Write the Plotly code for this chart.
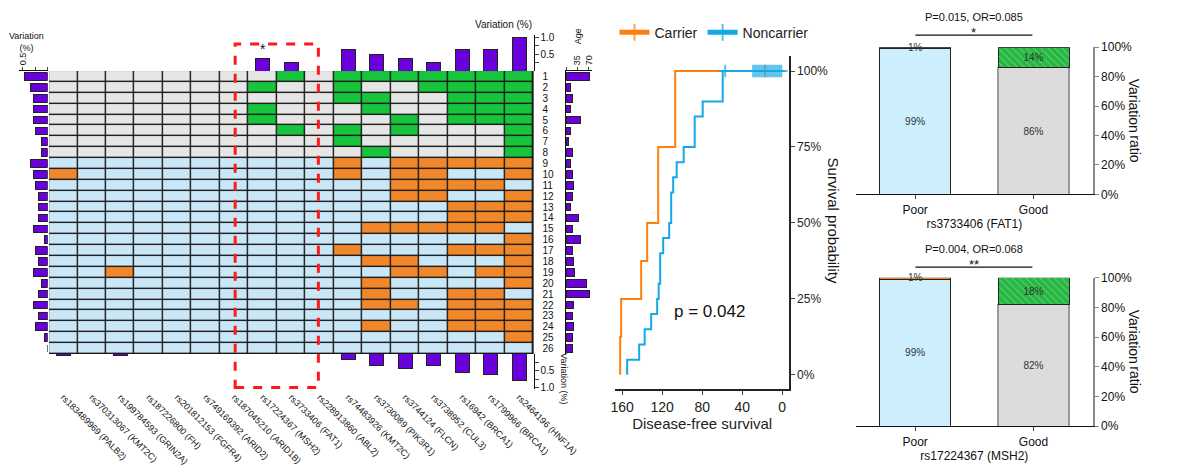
import plotly.graph_objects as go

W, H = 1200, 476
def dx(a, b): return [a / W, b / W]
def dy(top, bottom): return [1 - bottom / H, 1 - top / H]
def px(x): return x / W
def py(y): return 1 - y / H

FONT = "Liberation Sans, Arial, sans-serif"
PURPLE = "#6a00dc"
GREY, GREEN, BLUE, ORANGE = "#e6e6e6", "#17c43c", "#c9e7f6", "#f0872a"

# ---------------- data ----------------
snp_labels = ["rs183489969 (PALB2)", "rs370313067 (KMT2C)", "rs199784593 (GRIN2A)",
              "rs187226800 (FH)", "rs201812153 (FGFR4)", "rs749169392 (ARID2)",
              "rs187045210 (ARID1B)", "rs17224367 (MSH2)", "rs3733406 (FAT1)",
              "rs228913860 (ABL2)", "rs74483926 (KMT2C)", "rs3730089 (PIK3R1)",
              "rs3744124 (FLCN)", "rs3738952 (CUL3)", "rs16942 (BRCA1)",
              "rs1799966 (BRCA1)", "rs2464196 (HNF1A)"]
sample_labels = [str(i) for i in range(1, 27)]
# variant columns per sample, good-prognosis samples (1-8)
good_variants = [
    [8, 10, 11, 12, 13, 14, 15, 16],
    [7, 10, 13, 14, 15, 16],
    [10, 11, 14, 15, 16],
    [7, 11, 14, 15, 16],
    [7, 12, 14, 15, 16],
    [8, 10, 12, 16],
    [10, 16],
    [11, 16],
]
# poor-prognosis samples (9-26)
poor_variants = [
    [10, 12, 13, 14, 15, 16],
    [0, 10, 12, 13, 16],
    [12, 13, 14, 15],
    [12, 13, 16],
    [14, 15, 16],
    [14, 15, 16],
    [11, 12, 13, 14, 15],
    [16],
    [10, 14, 15, 16],
    [11, 12, 16],
    [2, 12, 13, 15, 16],
    [11, 16],
    [11, 14, 15],
    [11, 12, 14, 15, 16],
    [14, 15, 16],
    [11, 14, 15, 16],
    [16],
    [],
]
top_variation = [0, 0, 0, 0, 0, 0, 0, 0.375, 0.25, 0, 0.625, 0.5, 0.375, 0.25, 0.625, 0.625, 1.0]
bottom_variation = [0.056, 0, 0.056, 0, 0, 0, 0, 0, 0, 0, 0.167, 0.333, 0.444, 0.333, 0.556, 0.611, 0.778]
row_variation = [0.47, 0.35, 0.29, 0.29, 0.29, 0.235, 0.118, 0.118, 0.35, 0.29, 0.235, 0.176,
                 0.176, 0.176, 0.29, 0.059, 0.235, 0.176, 0.29, 0.118, 0.176, 0.29, 0.176,
                 0.235, 0.059, 0]
ages = [72, 13, 19, 13, 46, 15, 7, 20, 15, 19, 23, 21, 15, 39, 20, 44, 20, 24, 27, 62, 72,
        24, 21, 24, 20, 21]

# Kaplan-Meier
carrier_t = [0, 17, 107, 124, 135, 141, 161, 162]
carrier_s = [1, 1, 0.75, 0.5, 0.375, 0.25, 0.125, 0]
carrier_cens = [False, True, False, False, False, False, False, False]
non_t = [0, 1, 3, 5, 7, 9, 11, 13, 15, 17, 19, 21, 23, 25, 27, 29, 57, 59.5, 79.5, 87.5, 98.5,
         105.5, 109, 111, 113, 119, 122, 123.5, 125, 131, 137.5, 143, 155]
non_s = [1] * 17 + [0.9, 0.85, 0.75, 0.70, 0.65, 0.60, 0.50, 0.45, 0.40, 0.30, 0.25, 0.20,
                    0.15, 0.10, 0.05, 0]
non_cens = [False] + [True] * 16 + [False] * 16

# prognosis bars
groups = ["Good", "Poor"]
fat1_wild = [0.86, 0.99]
fat1_var = [0.14, 0.01]
msh2_wild = [0.82, 0.99]
msh2_var = [0.18, 0.01]

# ---------------- build ----------------
ncol = len(snp_labels)
z = []
for vars_ in good_variants:
    z.append([1 if c in vars_ else 0 for c in range(ncol)])
for vars_ in poor_variants:
    z.append([3 if c in vars_ else 2 for c in range(ncol)])
rows = list(range(len(sample_labels)))
cols = list(range(ncol))

fig = go.Figure()
cs = [[0, GREY], [0.1667, GREY], [0.1667, GREEN], [0.5, GREEN],
      [0.5, BLUE], [0.8333, BLUE], [0.8333, ORANGE], [1, ORANGE]]
fig.add_trace(go.Heatmap(z=z, x=cols, y=rows, colorscale=cs, zmin=0, zmax=3, showscale=False,
                         xgap=1.4, ygap=1.4, hoverinfo="skip", xaxis="x", yaxis="y"))

bar_line = dict(color="#222", width=1)
fig.add_trace(go.Bar(x=cols, y=top_variation, width=0.5, marker=dict(color=PURPLE, line=bar_line),
                     xaxis="x2", yaxis="y2", showlegend=False))
fig.add_trace(go.Bar(x=cols, y=bottom_variation, width=0.5, marker=dict(color=PURPLE, line=bar_line),
                     xaxis="x3", yaxis="y3", showlegend=False))
fig.add_trace(go.Bar(y=rows, x=row_variation, orientation="h", width=0.7,
                     marker=dict(color=PURPLE, line=bar_line), xaxis="x4", yaxis="y4", showlegend=False))
fig.add_trace(go.Bar(y=rows, x=ages, orientation="h", width=0.7,
                     marker=dict(color=PURPLE, line=bar_line), xaxis="x5", yaxis="y5", showlegend=False))

for name, t, s, cen, col in [("Carrier", carrier_t, carrier_s, carrier_cens, "#ff7f0e"),
                              ("Noncarrier", non_t, non_s, non_cens, "#14a9e6")]:
    fig.add_trace(go.Scatter(x=t, y=s, mode="lines+markers", name=name, line=dict(color=col, width=2, shape="hv"),
                             marker=dict(symbol="cross-thin", size=[9 if c else 0 for c in cen],
                                         color=col, line=dict(width=2, color=col)),
                             xaxis="x6", yaxis="y6"))

def stacked(ax, ay, wild, var):
    fig.add_trace(go.Bar(x=groups, y=wild, width=0.6, xaxis=ax, yaxis=ay, showlegend=False,
                         marker=dict(color=["#dcdcdc", "#cdeefc"], line=dict(color=["#9a9a9a", "#222"], width=1.2)),
                         text=[f"{round(v*100)}%" for v in wild], textposition="inside",
                         insidetextanchor="middle", textfont=dict(size=10, color="#333")))
    fig.add_trace(go.Bar(x=groups, y=var, width=0.6, xaxis=ax, yaxis=ay, showlegend=False,
                         marker=dict(color=["#27b843", "#f0872a"], line=dict(color="#222", width=1),
                                     pattern=dict(shape=["\\", ""], fgcolor="#0d6a20", size=5, solidity=0.15)),
                         text=[f"{round(var[0]*100)}%", ""], textposition="inside",
                         insidetextanchor="middle", textfont=dict(size=10, color="#333")))
    fig.add_annotation(x="Poor", y=wild[1] + var[1], xref=ax, yref=ay, text=f"{round(var[1]*100)}%",
                       showarrow=False, xanchor="center", yanchor="middle", font=dict(size=10, color="#333"))

stacked("x7", "y7", fat1_wild, fat1_var)
stacked("x8", "y8", msh2_wild, msh2_var)

# ---------------- layout ----------------
hm_x = dx(46, 551.5)
hm_y = dy(66, 357.5)
small = dict(family=FONT, size=10, color="#111")
lay = dict(
    width=W, height=H, margin=dict(l=0, r=0, t=0, b=0), paper_bgcolor="white", plot_bgcolor="white",
    barmode="stack", font=dict(family=FONT, color="#111"),
    xaxis=dict(domain=hm_x, range=[-0.5, 16.5], showticklabels=False, showgrid=False, zeroline=False, anchor="y"),
    yaxis=dict(domain=hm_y, range=[25.5, -0.5], side="right", tickvals=rows, ticktext=sample_labels,
               ticks="", showgrid=False, zeroline=False, tickfont=small, ticklabelstandoff=8, anchor="x"),
    xaxis2=dict(domain=hm_x, range=[-0.5, 16.5], visible=False, anchor="y2"),
    yaxis2=dict(domain=dy(29, 66), range=[0, 1.057], side="right", anchor="x2", showline=True, linecolor="#111",
                ticks="outside", ticklen=4, tickvals=[0.25, 0.5, 0.75, 1.0], ticktext=["", "0.5", "", "1.0"],
                showgrid=False, zeroline=False, tickfont=small),
    xaxis3=dict(domain=hm_x, range=[-0.5, 16.5], anchor="y3", tickvals=cols, ticktext=snp_labels, tickangle=45,
                ticks="", showgrid=False, zeroline=False, tickfont=dict(family=FONT, size=9, color="#111")),
    yaxis3=dict(domain=dy(357.5, 394), range=[1.05, 0], side="right", anchor="x3", showline=True, linecolor="#111",
                ticks="outside", ticklen=4, tickvals=[0.25, 0.5, 0.75, 1.0], ticktext=["", "0.5", "", "1.0"],
                showgrid=False, zeroline=False, tickfont=small),
    xaxis4=dict(domain=dx(15, 44.5), range=[0.57, 0], side="top", anchor="y4", showline=True, linecolor="#111",
                ticks="outside", ticklen=3, tickvals=[0, 0.25, 0.5], ticktext=["", "", "0.5"], tickangle=-90,
                showgrid=False, zeroline=False, tickfont=dict(family=FONT, size=9)),
    yaxis4=dict(domain=hm_y, range=[25.5, -0.5], visible=False, anchor="x4"),
    xaxis5=dict(domain=dx(585.5, 612), range=[0, 79], side="top", anchor="y5", showline=True, linecolor="#111",
                ticks="outside", ticklen=3, tickvals=[0, 35, 70], ticktext=["", "35", "70"], tickangle=-90,
                showgrid=False, zeroline=False, tickfont=dict(family=FONT, size=9)),
    yaxis5=dict(domain=hm_y, range=[25.5, -0.5], anchor="x5", showline=True, linecolor="#111",
                showticklabels=False, ticks="", showgrid=False, zeroline=False),
    xaxis6=dict(domain=dx(637, 818), range=[166.7, -6.7], anchor="y6", showline=True, linecolor="#222",
                linewidth=1.5, ticks="outside", ticklen=4, tickvals=[0, 40, 80, 120, 160], showgrid=False,
                zeroline=False, tickfont=dict(family=FONT, size=14, color="#222"),
                title=dict(text="Disease-free survival", font=dict(family=FONT, size=15, color="#222"), standoff=4)),
    yaxis6=dict(domain=dy(50, 394), range=[-0.048, 1.051], side="right", anchor="x6", showline=True,
                linecolor="#222", linewidth=1.5, ticks="outside", ticklen=4, tickvals=[0, 0.25, 0.5, 0.75, 1],
                tickformat=".0%", showgrid=False, zeroline=False,
                tickfont=dict(family=FONT, size=12, color="#222")),
    legend=dict(orientation="h", x=px(636), y=py(10), xanchor="left", yanchor="top", traceorder="normal",
                font=dict(family=FONT, size=14, color="#222"), itemsizing="constant", bgcolor="rgba(0,0,0,0)"),
)
for i, (top, bot, title) in enumerate([(41.5, 193, "rs3733406 (FAT1)"), (279, 432, "rs17224367 (MSH2)")]):
    xa, ya = f"xaxis{7+i}", f"yaxis{7+i}"
    lay[xa] = dict(domain=dx(888, 1135), anchor=f"y{7+i}", categoryorder="array", categoryarray=["Poor", "Good"],
                   showline=True, linecolor="#111", linewidth=1.2, ticks="outside", ticklen=4, showgrid=False,
                   tickfont=dict(family=FONT, size=12), title=dict(text=title, font=dict(family=FONT, size=12), standoff=2))
    lay[ya] = dict(domain=dy(top, bot), range=[0, 1], side="right", anchor=f"x{7+i}", showline=True,
                   linecolor="#888", linewidth=2, ticks="outside", ticklen=4, tickcolor="#888", dtick=0.2,
                   tickformat=".0%", showgrid=False, zeroline=False, tickfont=dict(family=FONT, size=12))
fig.update_layout(**lay)

# heatmap backing / borders and highlight box
fig.add_shape(type="rect", xref="x", yref="y", x0=-0.5, x1=16.5, y0=-0.5, y1=25.5,
              fillcolor="#1a1a1a", line=dict(color="#111", width=1.5), layer="below")
fig.add_shape(type="rect", xref="x", yref="paper", x0=6.03, x1=8.95, y0=py(392), y1=py(38),
              line=dict(color="#ff1a1a", width=3, dash="dash"))
fig.add_annotation(x=7, y=0.375, xref="x2", yref="y2", text="*", showarrow=False, yshift=9,
                   xanchor="center", yanchor="middle", font=dict(family=FONT, size=14))

ann = [
    (px(520), py(18), "Variation (%)", 0, 10),
    (px(22), py(36), "Variation<br>(%)", 0, 9),
    (px(584), py(383), "Variation (%)", 90, 9),
    (px(598), py(30), "Age", -90, 9),
    (px(864), py(220), "Survival probability", 90, 15),
    # rotated axis title of the ratio panels, set as two words to stay inside the page
    (px(1179), py(101.5), "Variation", 90, 14),
    (px(1179), py(146.5), "ratio", 90, 14),
    (px(1179), py(339.5), "Variation", 90, 14),
    (px(1179), py(384.5), "ratio", 90, 14),
    (px(1011), py(10), "P=0.015, OR=0.085", 0, 11),
    (px(1011), py(26), "*", 0, 13),
    (px(1011), py(249), "P=0.004, OR=0.068", 0, 11),
    (px(1011), py(265), "**", 0, 13),
]
for x, y, t, ang, sz in ann:
    fig.add_annotation(x=x, y=y, xref="paper", yref="paper", text=t, showarrow=False, textangle=ang,
                       xanchor="center", yanchor="middle", font=dict(family=FONT, size=sz, color="#111"))
fig.add_annotation(x=73, y=0.21, xref="x6", yref="y6", text="p = 0.042", showarrow=False,
                   xanchor="center", yanchor="middle", font=dict(family=FONT, size=17, color="#111"))
for yl in (29, 268):
    fig.add_shape(type="line", xref="paper", yref="paper", x0=px(950), x1=px(1072), y0=py(yl), y1=py(yl),
                  line=dict(color="#111", width=1.2))

fig.write_html("out.html", config={"displayModeBar": False},
               post_script="document.body.style.margin='0';document.body.style.overflow='hidden';")
